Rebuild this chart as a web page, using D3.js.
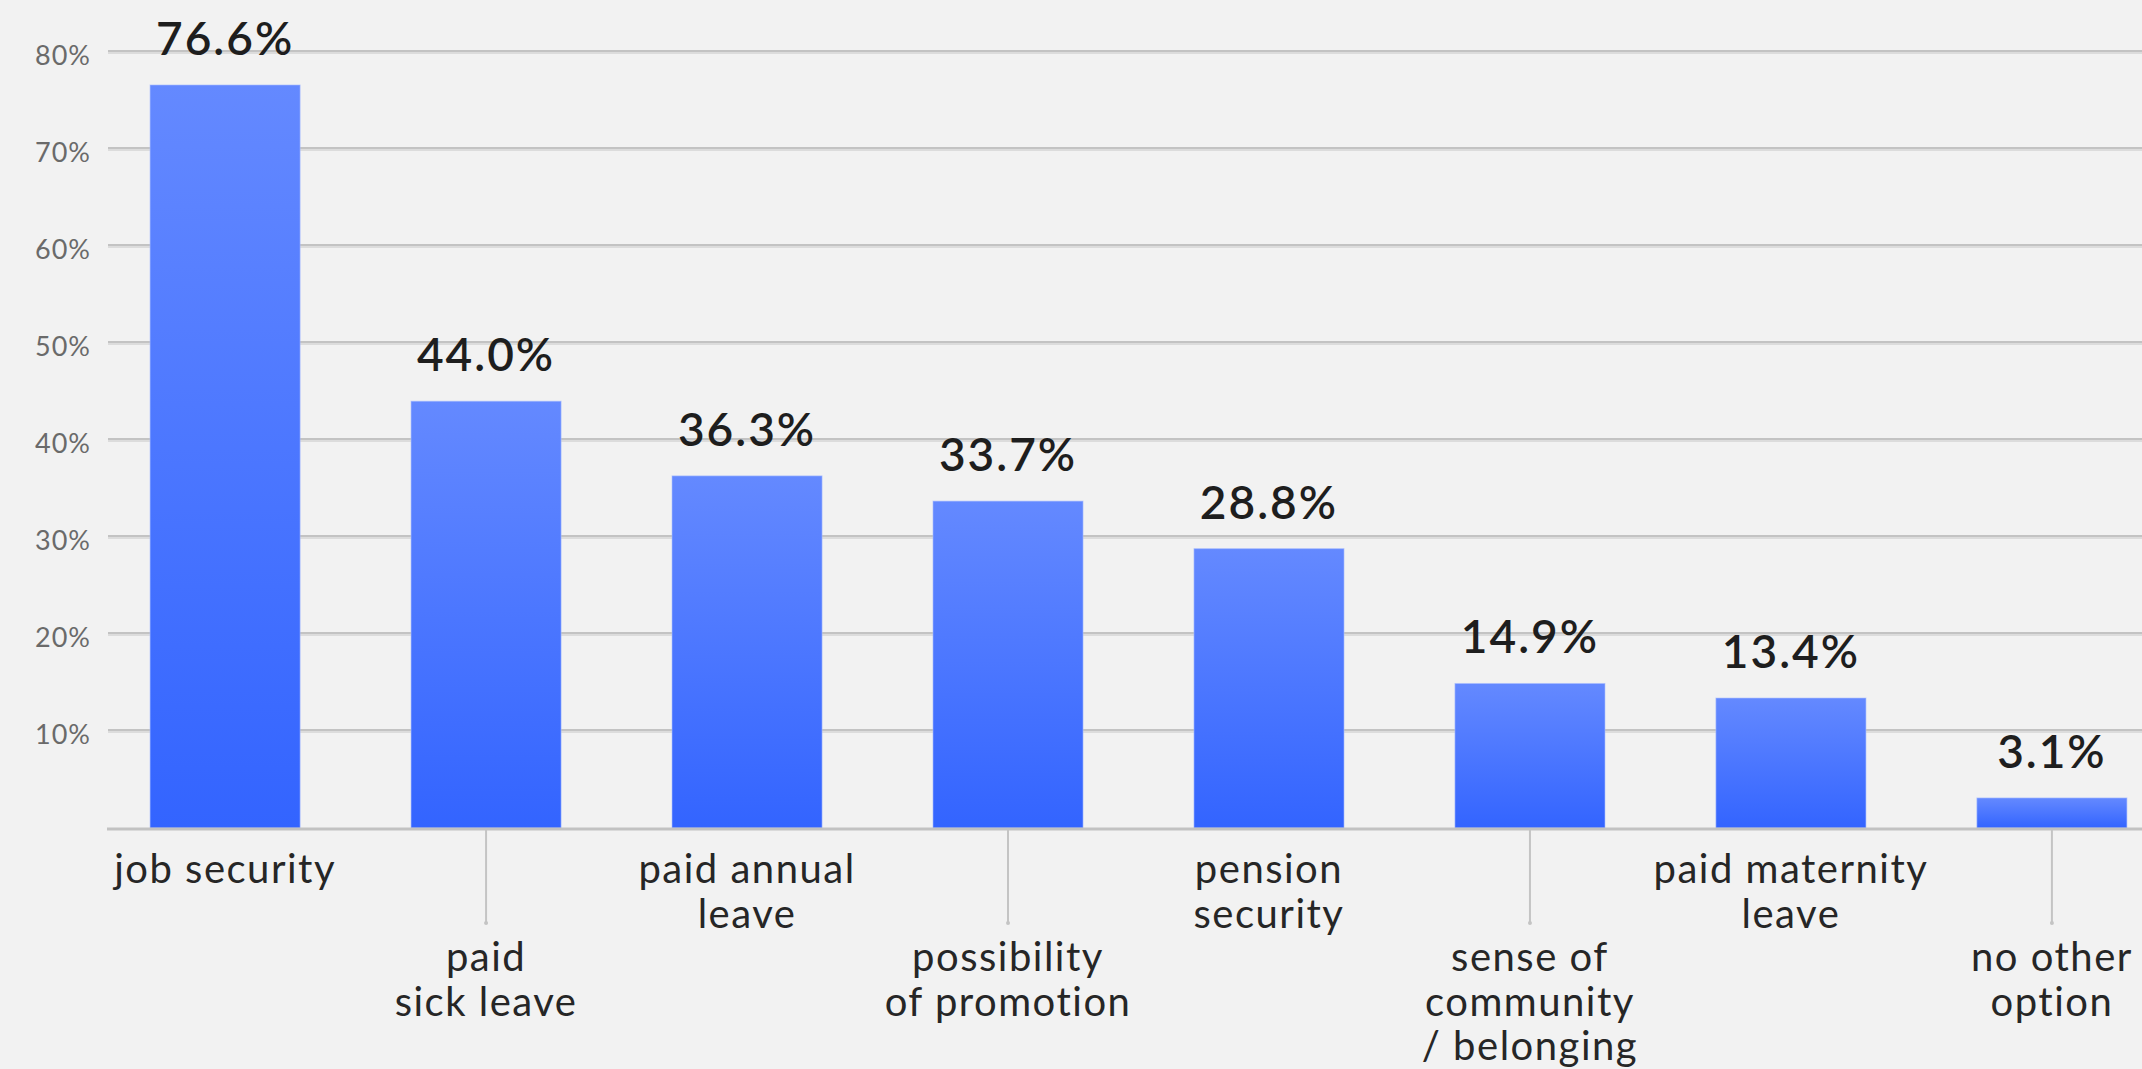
<!DOCTYPE html>
<html>
<head>
<meta charset="utf-8">
<script src="https://cdn.jsdelivr.net/npm/d3@7"></script>
<style>
  html, body { margin: 0; padding: 0; background: #f2f2f2; }
  svg { display: block; }
  text { font-family: Lato, "Noto Sans", sans-serif; }
</style>
</head>
<body>
<svg id="chart" width="2142" height="1069"></svg>
<script>
// Reasons given, with share of respondents (%)
const categories = [
  "job security", "paid sick leave", "paid annual leave", "possibility of promotion",
  "pension security", "sense of community / belonging", "paid maternity leave", "no other option"
];
const labelLines = [
  ["job security"],
  ["paid", "sick leave"],
  ["paid annual", "leave"],
  ["possibility", "of promotion"],
  ["pension", "security"],
  ["sense of", "community", "/ belonging"],
  ["paid maternity", "leave"],
  ["no other", "option"]
];
const values = [76.6, 44.0, 36.3, 33.7, 28.8, 14.9, 13.4, 3.1];
const yTickValues = [10, 20, 30, 40, 50, 60, 70, 80];

const W = 2142, H = 1069;
const svg = d3.select("#chart");

const x = d3.scaleBand()
  .domain(categories)
  .range([107, 2170])
  .paddingInner(0.425)
  .paddingOuter(0.165);

const y = d3.scaleLinear().domain([0, 80]).range([828, 52]);

// Bar fill: lighter at the top of each bar, deeper blue at its base
const defs = svg.append("defs");
const grad = defs.append("linearGradient")
  .attr("id", "barFill")
  .attr("x1", 0).attr("y1", 0).attr("x2", 0).attr("y2", 1);
grad.append("stop").attr("offset", "0%").attr("stop-color", "#6489ff");
grad.append("stop").attr("offset", "100%").attr("stop-color", "#3364ff");

// Horizontal gridlines (two-tone for a slight embossed look)
const grid = svg.append("g").attr("class", "grid");
grid.selectAll("line.dark").data(yTickValues).join("line")
  .attr("class", "dark")
  .attr("x1", 108).attr("x2", W)
  .attr("y1", d => y(d) - 1).attr("y2", d => y(d) - 1)
  .attr("stroke", "#c3c3c3").attr("stroke-width", 2);
grid.selectAll("line.light").data(yTickValues).join("line")
  .attr("class", "light")
  .attr("x1", 108).attr("x2", W)
  .attr("y1", d => y(d) + 1).attr("y2", d => y(d) + 1)
  .attr("stroke", "#dcdcdc").attr("stroke-width", 2);

// Y axis labels
const yAxis = d3.axisLeft(y).tickValues(yTickValues).tickFormat(d => d + "%").tickSize(0).tickPadding(0);
const yG = svg.append("g").attr("transform", "translate(91,0)").call(yAxis);
yG.select(".domain").remove();
yG.selectAll("text")
  .attr("font-family", "Lato, sans-serif")
  .attr("font-size", 27)
  .attr("letter-spacing", 1)
  .attr("fill", "#6a6a6a")
  .attr("dy", "0.45em");

// Bars
svg.append("g").selectAll("rect").data(values).join("rect")
  .attr("x", (d, i) => x(categories[i]))
  .attr("width", x.bandwidth())
  .attr("y", d => y(d))
  .attr("height", d => y(0) - y(d))
  .attr("fill", "url(#barFill)")
  .attr("stroke", "rgba(170,190,255,0.6)")
  .attr("stroke-width", 1);

// Baseline
svg.append("line")
  .attr("x1", 107).attr("x2", W)
  .attr("y1", y(0) + 1).attr("y2", y(0) + 1)
  .attr("stroke", "#c2c2c2").attr("stroke-width", 3);

// Value labels
svg.append("g").selectAll("text").data(values).join("text")
  .attr("x", (d, i) => x(categories[i]) + x.bandwidth() / 2)
  .attr("y", d => y(d) - 30)
  .attr("text-anchor", "middle")
  .attr("font-size", 46)
  .attr("font-weight", 600)
  .attr("letter-spacing", 2)
  .attr("fill", "#1e1e1e")
  .text(d => d.toFixed(1) + "%");

// Category labels, staggered: every second label drops below a leader tick
const lineGap = 44.5;
const catG = svg.append("g");
categories.forEach((c, i) => {
  const cx = x(c) + x.bandwidth() / 2;
  const lowered = i % 2 === 1;
  if (lowered) {
    catG.append("line")
      .attr("x1", cx).attr("x2", cx)
      .attr("y1", y(0) + 2).attr("y2", 923)
      .attr("stroke", "#c4c4c4").attr("stroke-width", 2);
    catG.append("circle")
      .attr("cx", cx).attr("cy", 923).attr("r", 2)
      .attr("fill", "#c4c4c4");
  }
  const base = lowered ? 971 : 883;
  const t = catG.append("text")
    .attr("text-anchor", "middle")
    .attr("font-size", 40)
    .attr("letter-spacing", 1.5)
    .attr("fill", "#262626");
  labelLines[i].forEach((ln, k) => {
    t.append("tspan").attr("x", cx).attr("y", base + k * lineGap).text(ln);
  });
});
</script>
</body>
</html>
